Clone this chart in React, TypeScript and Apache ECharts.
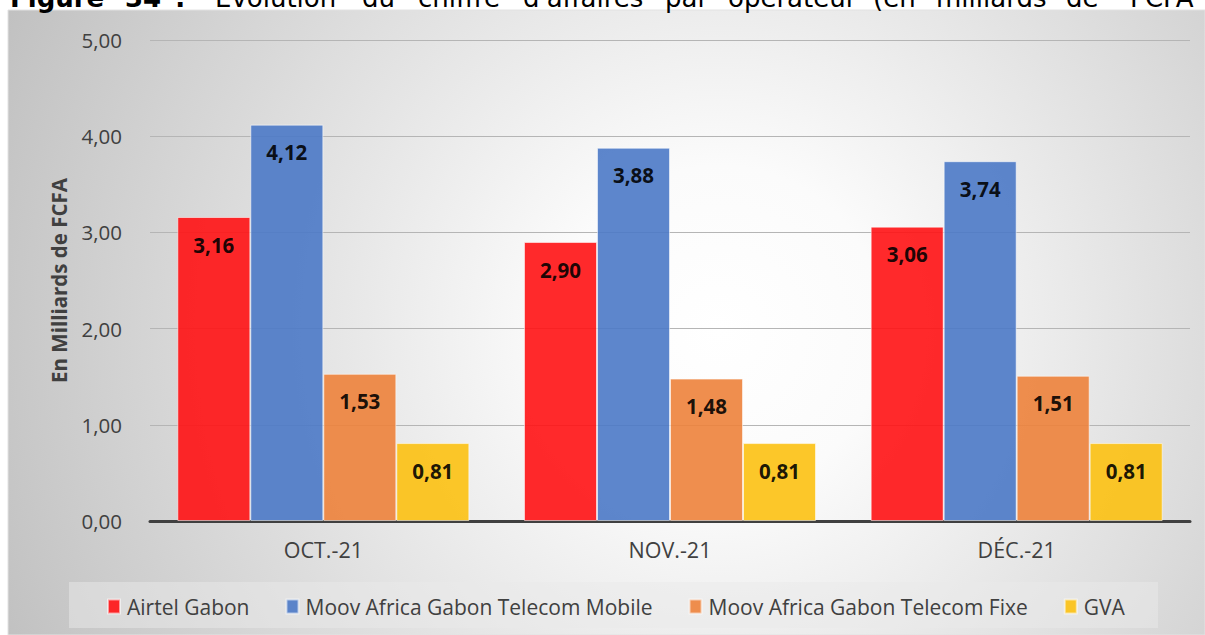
import React, { useEffect, useRef } from "react";
import * as echarts from "echarts";

const categories = ["OCT.-21", "NOV.-21", "DÉC.-21"];
const seriesNames = [
  "Airtel Gabon",
  "Moov Africa Gabon Telecom Mobile",
  "Moov Africa Gabon Telecom Fixe",
  "GVA",
];
const airtelGabon = [3.16, 2.9, 3.06];
const moovMobile = [4.12, 3.88, 3.74];
const moovFixe = [1.53, 1.48, 1.51];
const gva = [0.81, 0.81, 0.81];
const seriesColors = ["#ff1214", "#4b79c7", "#ed823b", "#fcc112"];
const yTitle = "En Milliards de FCFA";
const titleWords = [
  { t: "Figure", bold: true },
  { t: "34", bold: true },
  { t: ":", bold: true },
  { t: "Évolution", bold: false },
  { t: "du", bold: false },
  { t: "chiffre", bold: false },
  { t: "d'affaires", bold: false },
  { t: "par", bold: false },
  { t: "opérateur", bold: false },
  { t: "(en", bold: false },
  { t: "milliards", bold: false },
  { t: "de", bold: false },
  { t: "FCFA", bold: false },
];
const titleX = [10, 125, 175, 215, 362, 418, 523, 665, 728, 873, 936, 1066, 1130];

const fmt = (v: number) => v.toFixed(2).replace(".", ",");

export default function App() {
  const ref = useRef<HTMLDivElement>(null);
  useEffect(() => {
    if (!ref.current) return;
    const chart = echarts.init(ref.current, undefined, { renderer: "svg" });
    const values = [airtelGabon, moovMobile, moovFixe, gva];
    const font = "'Open Sans', 'Noto Sans', sans-serif";
    const option: any = {
      animation: false,
      graphic: [
        {
          type: "rect",
          z: -100,
          shape: { x: 8, y: 10, width: 1197, height: 625 },
          style: {
            fill: {
              type: "radial",
              x: 720,
              y: 330,
              r: 820,
              global: true,
              colorStops: [
                { offset: 0, color: "#ffffff" },
                { offset: 0.2, color: "#fbfbfb" },
                { offset: 1, color: "#bdbdbd" },
              ],
            },
            stroke: "#e2e2e2",
            lineWidth: 1,
          },
        },
        {
          type: "rect",
          z: -90,
          shape: { x: 69, y: 582, width: 1089, height: 46 },
          style: { fill: "rgba(234,234,234,0.5)" },
        },
        ...titleWords.map((w, i) => ({
          type: "text",
          z: 100,
          x: titleX[i],
          y: -2.5,
          style: {
            text: w.t,
            fill: "#000",
            font: `${w.bold ? "bold " : ""}26px 'DejaVu Sans', Verdana, sans-serif`,
            verticalAlign: "middle",
            align: "left",
          },
        })),
      ],
      legend: {
        data: seriesNames,
        left: 102,
        top: 591,
        icon: "rect",
        itemWidth: 12,
        itemHeight: 14,
        itemGap: 36,
        textStyle: {
          fontFamily: font,
          fontSize: 21,
          color: "#404040",
          padding: [0, 0, 0, 2],
        },
      },
      grid: { left: 150, right: 15, top: 40, bottom: 114, containLabel: false },
      xAxis: {
        type: "category",
        data: categories,
        axisLine: { lineStyle: { color: "#404040", width: 3 } },
        axisTick: { show: false },
        axisLabel: { fontFamily: font, fontSize: 21.5, color: "#404040", margin: 17 },
      },
      yAxis: {
        type: "value",
        min: 0,
        max: 5,
        interval: 1,
        name: yTitle,
        nameLocation: "middle",
        nameGap: 81,
        nameRotate: 90,
        nameTextStyle: { fontFamily: font, fontSize: 20.5, fontWeight: "bold", color: "#404040" },
        axisLine: { show: false },
        axisTick: { show: false },
        axisLabel: {
          fontFamily: font,
          fontSize: 20.5,
          color: "#404040",
          margin: 28,
          formatter: (v: number) => fmt(v),
        },
        splitLine: { lineStyle: { color: "#b5b5b5", width: 1 } },
      },
      series: seriesNames.map((name, i) => ({
        name,
        type: "bar",
        data: values[i],
        barWidth: 73,
        barGap: "0%",
        itemStyle: {
          color: seriesColors[i],
          opacity: 0.9,
          borderColor: "rgba(255,255,255,0.6)",
          borderWidth: 1,
        },
        label: {
          show: true,
          position: "insideTop",
          distance: 17,
          fontFamily: font,
          fontSize: 20.5,
          fontWeight: "bold",
          color: "#000",
          formatter: (p: any) => fmt(p.value),
        },
      })),
    };
    chart.setOption(option);
    return () => chart.dispose();
  }, []);
  return (
    <div
      ref={ref}
      style={{ position: "absolute", left: 0, top: 0, width: 1205, height: 635 }}
    />
  );
}
